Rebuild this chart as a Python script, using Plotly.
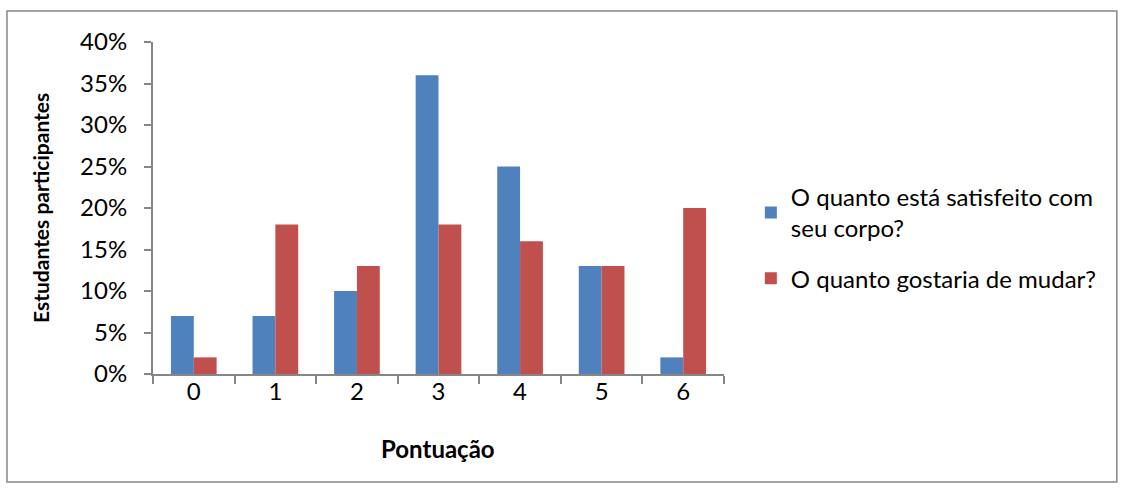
import plotly.graph_objects as go

categories = ["0", "1", "2", "3", "4", "5", "6"]
satisfeito = [0.07, 0.07, 0.10, 0.36, 0.25, 0.13, 0.02]
mudar = [0.02, 0.18, 0.13, 0.18, 0.16, 0.13, 0.20]
series_names = ["O quanto está satisfeito com<br>seu corpo?", "O quanto gostaria de mudar?"]
y_ticks = [0, 0.05, 0.10, 0.15, 0.20, 0.25, 0.30, 0.35, 0.40]
y_ticktext = ["0%", "5%", "10%", "15%", "20%", "25%", "30%", "35%", "40%"]

FONT = "Lato, Carlito, Calibri, sans-serif"

fig = go.Figure()
fig.add_trace(go.Bar(x=categories, y=satisfeito, name=series_names[0], legendgroup="a",
                     marker=dict(color="#4F81BD", line=dict(width=0))))
fig.add_trace(go.Bar(x=categories, y=mudar, name=series_names[1], legendgroup="b",
                     marker=dict(color="#C0504D", line=dict(width=0))))

fig.update_layout(
    width=1126, height=492,
    margin=dict(l=153, r=402, t=42, b=118),
    paper_bgcolor="white", plot_bgcolor="white",
    barmode="group", bargap=0.44, bargroupgap=0,
    font=dict(family=FONT, size=24, color="black"),
    showlegend=True,
    legend=dict(x=1.047, y=0.60, xanchor="left", yanchor="top",
                font=dict(family=FONT, size=24, color="black"),
                bgcolor="rgba(0,0,0,0)", itemwidth=30, tracegroupgap=16),
    xaxis=dict(type="category", showline=True, linecolor="#868686", linewidth=2,
               ticks="outside", tickson="boundaries", ticklen=8, tickwidth=2,
               tickcolor="#868686", showgrid=False, zeroline=False,
               ticklabelstandoff=-5,
               tickfont=dict(family=FONT, size=24)),
    yaxis=dict(range=[0, 0.40], tickvals=y_ticks, ticktext=y_ticktext,
               showline=True, linecolor="#868686", linewidth=2,
               ticks="outside", ticklen=7, tickwidth=2, tickcolor="#868686",
               showgrid=False, zeroline=False, ticklabelstandoff=12,
               tickfont=dict(family=FONT, size=24)),
    annotations=[
        dict(text="<b>Estudantes participantes</b>", xref="paper", yref="paper",
             x=-0.198, y=0.5, xanchor="center", yanchor="middle",
             textangle=-90, showarrow=False,
             font=dict(family=FONT, size=21)),
        dict(text="<b>Pontuação</b>", xref="paper", yref="paper",
             x=0.499, y=-0.223, xanchor="center", yanchor="middle",
             showarrow=False,
             font=dict(family=FONT, size=24)),
    ],
    shapes=[
        dict(type="rect", xref="paper", yref="paper",
             x0=-0.2557, x1=1.688, y0=-0.325, y1=1.093,
             line=dict(color="#868686", width=1.5), fillcolor="rgba(0,0,0,0)"),
    ],
)

fig.write_html("out.html", config={"displayModeBar": False},
               post_script="document.body.style.margin='0';document.body.style.overflow='hidden';")
